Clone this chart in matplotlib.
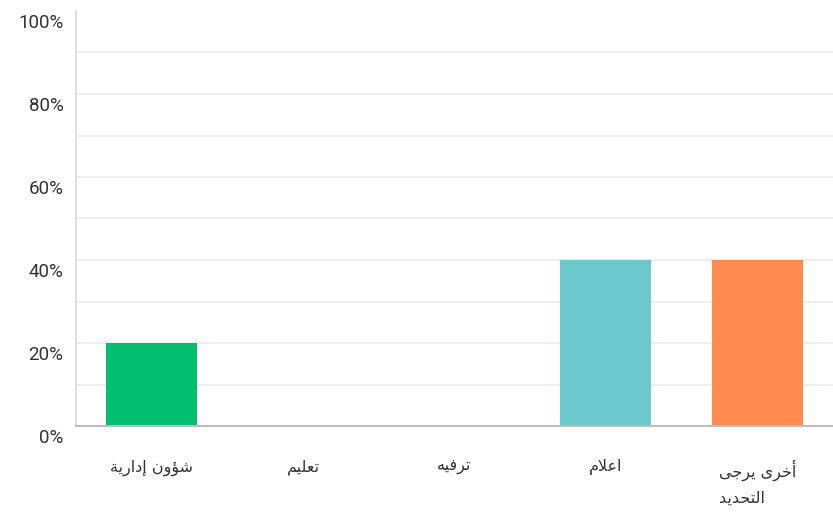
import matplotlib
matplotlib.use('Agg')
import matplotlib.pyplot as plt
import matplotlib.transforms as mtransforms
from matplotlib.ticker import PercentFormatter

# --- Daten ---
kategorien = ['شؤون إدارية', 'تعليم', 'ترفيه', 'اعلام', 'أخرى يرجى\nالتحديد']
anteile = [0.20, 0.0, 0.0, 0.40, 0.40]
farben = ['#00BF6F', '#00BF6F', '#00BF6F', '#6BC8CD', '#FF8B4F']
y_ticks = [0.0, 0.2, 0.4, 0.6, 0.8, 1.0]

# Arabische Buchstaben -> (isoliert, final, initial, medial)
FORMEN = {
    'ا': ('\uFE8D', '\uFE8E', None, None),
    'أ': ('\uFE83', '\uFE84', None, None),
    'إ': ('\uFE87', '\uFE88', None, None),
    'ؤ': ('\uFE85', '\uFE86', None, None),
    'ة': ('\uFE93', '\uFE94', None, None),
    'ت': ('\uFE95', '\uFE96', '\uFE97', '\uFE98'),
    'ج': ('\uFE9D', '\uFE9E', '\uFE9F', '\uFEA0'),
    'ح': ('\uFEA1', '\uFEA2', '\uFEA3', '\uFEA4'),
    'خ': ('\uFEA5', '\uFEA6', '\uFEA7', '\uFEA8'),
    'د': ('\uFEA9', '\uFEAA', None, None),
    'ر': ('\uFEAD', '\uFEAE', None, None),
    'ش': ('\uFEB5', '\uFEB6', '\uFEB7', '\uFEB8'),
    'ع': ('\uFEC9', '\uFECA', '\uFECB', '\uFECC'),
    'ف': ('\uFED1', '\uFED2', '\uFED3', '\uFED4'),
    'ل': ('\uFEDD', '\uFEDE', '\uFEDF', '\uFEE0'),
    'م': ('\uFEE1', '\uFEE2', '\uFEE3', '\uFEE4'),
    'ن': ('\uFEE5', '\uFEE6', '\uFEE7', '\uFEE8'),
    'ه': ('\uFEE9', '\uFEEA', '\uFEEB', '\uFEEC'),
    'و': ('\uFEED', '\uFEEE', None, None),
    'ى': ('\uFEEF', '\uFEF0', None, None),
    'ي': ('\uFEF1', '\uFEF2', '\uFEF3', '\uFEF4'),
}
LAM_ALEF = {'ا': ('\uFEFB', '\uFEFC'), 'أ': ('\uFEF7', '\uFEF8'), 'إ': ('\uFEF9', '\uFEFA')}


def verbindet_vorwaerts(c):
    return c in FORMEN and FORMEN[c][2] is not None


def forme_zeile(text):
    """Wählt die Buchstabenformen und dreht die Zeile für die Anzeige um."""
    zeichen = list(text)
    glyphen = []
    i = 0
    while i < len(zeichen):
        c = zeichen[i]
        verbunden = i > 0 and verbindet_vorwaerts(zeichen[i - 1])
        if c == 'ل' and i + 1 < len(zeichen) and zeichen[i + 1] in LAM_ALEF:
            iso, fin = LAM_ALEF[zeichen[i + 1]]
            glyphen.append(fin if verbunden else iso)
            i += 2
            continue
        if c not in FORMEN:
            glyphen.append(c)
            i += 1
            continue
        iso, fin, ini, med = FORMEN[c]
        nxt = zeichen[i + 1] if i + 1 < len(zeichen) else ''
        weiter = ini is not None and nxt in FORMEN
        if verbunden and weiter:
            glyphen.append(med)
        elif verbunden:
            glyphen.append(fin)
        elif weiter:
            glyphen.append(ini)
        else:
            glyphen.append(iso)
        i += 1
    return ''.join(reversed(glyphen))


def forme(text):
    return '\n'.join(forme_zeile(z) for z in text.split('\n'))


# --- Grafik ---
fig = plt.figure(figsize=(8.33, 5.13), dpi=100)
ax = fig.add_axes([76 / 833, 87 / 513, 757 / 833, 415 / 513])

x = list(range(len(kategorien)))
ax.bar(x, anteile, width=0.6, color=farben, zorder=3)

ax.set_xlim(-0.5, len(kategorien) - 0.5)
ax.set_ylim(0, 1.0)

# helle Gitterlinien alle 10 %
for g in [0.1, 0.2, 0.3, 0.4, 0.5, 0.6, 0.7, 0.8, 0.9]:
    ax.axhline(g, color='#EBEBEB', linewidth=1.2, zorder=1)

ax.set_yticks(y_ticks)
ax.yaxis.set_major_formatter(PercentFormatter(1.0, decimals=0))
ax.tick_params(axis='y', length=0, pad=9, labelsize=13.5, labelcolor='#333333')
# Beschriftung sitzt knapp unter der jeweiligen Linie
verschiebung = mtransforms.ScaledTranslation(0, -3 / 100, fig.dpi_scale_trans)
for lbl in ax.get_yticklabels():
    lbl.set_family('Roboto')
    lbl.set_verticalalignment('top')
    lbl.set_transform(lbl.get_transform() + verschiebung)

ax.set_xticks(x)
ax.set_xticklabels([forme(k) for k in kategorien], family='DejaVu Sans',
                   fontsize=11.5, color='#333333', multialignment='left',
                   va='top', linespacing=1.85)
ax.tick_params(axis='x', length=0, pad=24)

for s in ['top', 'right']:
    ax.spines[s].set_visible(False)
ax.spines['left'].set_color('#D9D9D9')
ax.spines['left'].set_linewidth(1.2)
ax.spines['bottom'].set_color('#BDBDBD')
ax.spines['bottom'].set_linewidth(1.5)
ax.spines['bottom'].set_zorder(4)

fig.savefig('out.png', dpi=100)
